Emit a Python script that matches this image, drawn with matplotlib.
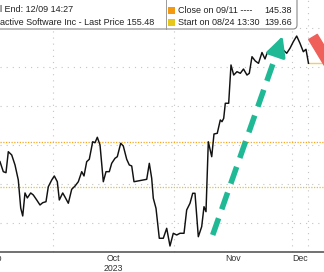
import numpy as np
import matplotlib
matplotlib.use("Agg")
import matplotlib.pyplot as plt
from matplotlib.patches import FancyBboxPatch, Rectangle
from matplotlib.lines import Line2D

plt.rcParams['font.family'] = ['Liberation Sans', 'DejaVu Sans']

# price line: days after 2023-10-01 00:00 and price
day_offset = [-13.53, -12.69, -12.00, -11.41, -10.54, -9.70, -8.86, -8.24, -7.73, -7.15,
              -6.56, -5.69, -5.03, -4.16, -3.32, -2.63, -1.79, -1.20, -0.33, 0.33,
              1.10, 1.61, 2.48, 3.06, 3.91, 4.77, 5.62, 6.46, 7.33, 7.91,
              8.60, 9.26, 10.13, 10.72, 11.31, 12.00, 12.84, 13.53, 14.37, 14.98,
              15.82, 16.41, 17.28, 17.94, 18.81, 19.47, 20.09, 20.67, 23.92, 24.58,
              25.19, 25.60, 26.29, 27.13, 28.15, 29.02, 29.86, 30.70, 31.57, 32.41,
              33.44, 34.12, 34.97, 35.66, 36.24, 37.09, 37.95, 38.54, 39.05, 39.64,
              40.51, 41.09, 41.93, 42.70, 43.13, 43.57, 43.98, 44.84, 45.43, 46.12,
              46.96, 47.81, 48.62, 49.51, 50.10, 50.79, 51.63, 52.45, 53.34, 54.11,
              54.75, 55.64, 57.10, 57.94, 58.78, 59.65, 60.49, 61.33, 62.20, 63.04,
              63.89, 64.57, 65.21]
price = [142.86, 141.58, 141.45, 144.14, 143.72, 142.44, 140.51, 136.92, 135.90, 138.85,
         138.21, 138.85, 138.59, 137.95, 137.31, 137.60, 137.73, 139.65, 140.51, 141.03,
         140.29, 137.95, 138.85, 138.33, 137.53, 139.32, 139.74, 140.29, 141.58, 141.03,
         142.86, 143.17, 145.42, 145.29, 145.99, 145.00, 140.29, 141.58, 141.58, 142.65,
         143.29, 143.50, 145.22, 144.87, 143.17, 142.44, 142.31, 140.29, 140.60, 142.65,
         140.73, 138.17, 136.88, 133.04, 133.04, 134.32, 132.05, 133.68, 133.46, 133.68,
         133.68, 136.67, 137.53, 138.81, 138.81, 133.24, 134.53, 137.09, 136.45, 145.42,
         143.50, 146.41, 146.50, 148.21, 147.99, 148.42, 150.35, 150.35, 155.26, 153.97,
         154.40, 154.19, 154.74, 153.97, 154.19, 156.32, 155.77, 155.47, 156.86, 156.03,
         156.92, 157.31, 157.40, 156.96, 157.18, 156.76, 157.40, 158.24, 158.97, 158.04,
         156.96, 157.27, 155.48]

close_0911 = 145.38
start_0824 = 139.66
last_price = 155.48
price_grid = [135, 140, 145, 150, 155, 160]

month_starts = ['2023-10-01', '2023-11-01', '2023-12-01']
month_labels = ['Sep', 'Oct\n2023', 'Nov', 'Dec']
month_label_at = ['2023-09-16', '2023-10-16T12:00', '2023-11-16', '2023-12-03']

# arrows drawn on the chart (days after 2023-10-01, price)
green_from = (40.76, 133.46)
green_head = (57.27, 157.04)
green_tip = (58.60, 158.97)
red_from = (66.36, 158.85)
red_to = (75.80, 151.00)

base = np.datetime64('2023-10-01T00:00')


def to_date(d):
    return base + np.round(np.asarray(d) * 1440).astype('timedelta64[m]')


dates = to_date(day_offset)

fig = plt.figure(figsize=(3.24, 2.72), dpi=100)
ax = fig.add_axes([0, 20 / 272, 1, 252 / 272])

# grid
grid_kw = dict(color='#c4c4c4', lw=0.8, linestyle=(0, (1, 4.5)))
for p in price_grid:
    ax.axhline(p, zorder=1, **grid_kw)
for m in month_starts:
    ax.axvline(np.datetime64(m), zorder=1, **grid_kw)
ax.axvline(dates[-1], zorder=1, **grid_kw)

# reference levels
ax.axhline(close_0911, color='#f5a623', lw=0.9, linestyle=(0, (1, 1.2)), zorder=2)
ax.axhline(start_0824, color='#e8c51a', lw=0.9, linestyle=(0, (1, 1.2)), zorder=2)
ax.plot([dates[-1], to_date(69.17)], [last_price, last_price], color='#ecd070', lw=1.0, zorder=2)

ax.plot(dates, price, color='#111111', lw=1.05, zorder=3)

# green dashed arrow
teal = '#1fb996'
ax.plot([to_date(green_from[0]), to_date(green_head[0])], [green_from[1], green_head[1]],
        color=teal, lw=4.0, linestyle=(0, (3.2, 1.7)), dash_capstyle='butt', zorder=4)
ax.annotate('', xy=(to_date(green_tip[0]), green_tip[1]),
            xytext=(to_date(green_head[0]), green_head[1]),
            arrowprops=dict(arrowstyle='-|>,head_length=1.2,head_width=0.6', color=teal,
                            lw=2.5, shrinkA=0, shrinkB=0), zorder=4)

# red arrow, runs out of the picture
ax.annotate('', xy=(to_date(red_to[0]), red_to[1]),
            xytext=(to_date(red_from[0]), red_from[1]),
            arrowprops=dict(arrowstyle='simple,head_length=1.0,head_width=1.1,tail_width=0.45',
                            color='#f0605a', mutation_scale=16, shrinkA=0, shrinkB=0),
            annotation_clip=False, zorder=4)

# axes styling
for s in ['left', 'right', 'top']:
    ax.spines[s].set_visible(False)
ax.spines['bottom'].set_color('#4a4a4a')
ax.spines['bottom'].set_linewidth(1.1)
ax.set_yticks([])
ax.set_xticks([np.datetime64(m) for m in month_label_at[1:]])
ax.set_xticklabels(month_labels[1:], fontsize=6.3, color='#333333', linespacing=1.1)
ax.tick_params(axis='x', length=0, pad=1.5)
ax.set_xlim(to_date(-13.53), to_date(69.17))
ax.set_ylim(131.28, 163.59)
# Sep label sits half outside the picture, so it is placed by hand
ax.annotate(month_labels[0], xy=(np.datetime64(month_label_at[0]), 0), xycoords=('data', 'axes fraction'),
            xytext=(0, -1.5), textcoords='offset points', ha='center', va='top',
            fontsize=6.3, color='#333333', annotation_clip=False)

# legend box at the top
px = fig.dpi_scale_trans
box = FancyBboxPatch((-0.1, 2.43), 3.07, 0.42, boxstyle='round,pad=0,rounding_size=0.04',
                     facecolor='white', edgecolor='#8a8a8a', lw=0.8, transform=px, zorder=10)
fig.add_artist(box)
fig.add_artist(Line2D([1.66, 1.66], [2.43, 2.72], color='#9a9a9a', lw=0.7, transform=px, zorder=11))

txt = dict(fontsize=6.5, color='#222222', va='center', transform=px, zorder=12)
fig.text(0.0, 2.62, 'l End: 12/09 14:27', **txt)
fig.text(0.0, 2.493, 'active Software Inc - Last Price 155.48', **txt)

fig.add_artist(Rectangle((1.68, 2.58), 0.067, 0.067, facecolor='#f39a12', edgecolor='none',
                         transform=px, zorder=12))
fig.add_artist(Rectangle((1.68, 2.46), 0.067, 0.067, facecolor='#e6c619', edgecolor='none',
                         transform=px, zorder=12))
fig.text(1.78, 2.614, 'Close on 09/11 ----', **txt)
fig.text(1.78, 2.494, 'Start on 08/24 13:30', **txt)
txt['ha'] = 'right'
fig.text(2.92, 2.614, '145.38', **txt)
fig.text(2.92, 2.494, '139.66', **txt)

fig.savefig('out.png', dpi=100)
